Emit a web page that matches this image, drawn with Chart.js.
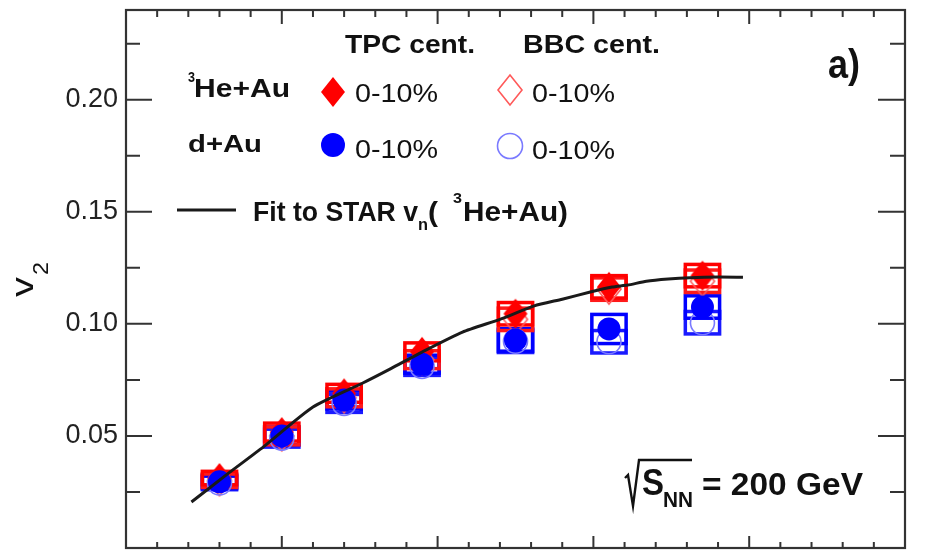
<!DOCTYPE html>
<html><head><meta charset="utf-8">
<script src="https://cdn.jsdelivr.net/npm/chart.js@4.4.1/dist/chart.umd.min.js"></script>
<style>html,body{margin:0;padding:0;background:#fff;}canvas{display:block;}</style>
</head><body>
<canvas id="c" width="927" height="551"></canvas>
<script>
const FAMILY = '"Liberation Sans", Arial, Helvetica, sans-serif';

// ---- data ----
const xBins   = [0.30, 0.50, 0.70, 0.95, 1.25, 1.55, 1.85];
const heTPC   = [0.0312, 0.0517, 0.0690, 0.0875, 0.1045, 0.1165, 0.1215];
const heBBC   = [0.0300, 0.0500, 0.0670, 0.0840, 0.1020, 0.1155, 0.1190];
const dauTPC  = [0.0295, 0.0500, 0.0660, 0.0820, 0.0928, 0.0977, 0.1075];
const dauBBC  = [0.0290, 0.0490, 0.0645, 0.0810, 0.0922, 0.0920, 0.1005];
const heTPCsys  = [0.003, 0.004, 0.004, 0.004, 0.005, 0.005, 0.005];
const heBBCsys  = [0.003, 0.004, 0.004, 0.004, 0.005, 0.005, 0.005];
const dauTPCsys = [0.003, 0.004, 0.004, 0.004, 0.005, 0.0065, 0.005];
const dauBBCsys = [0.003, 0.004, 0.004, 0.004, 0.005, 0.005, 0.005];
const sysHalfWidth = 0.055;
const fitX = [0.21, 0.33, 0.44, 0.60, 0.76, 0.85, 0.95, 1.08, 1.20, 1.31, 1.40, 1.49, 1.56, 1.61, 1.67, 1.74, 1.81, 1.90, 1.98];
const fitY = [0.0205, 0.0335, 0.0450, 0.0629, 0.0736, 0.0800, 0.0874, 0.0963, 0.1020, 0.1080, 0.1110, 0.1142, 0.1164, 0.1173, 0.1190, 0.1200, 0.1206, 0.1209, 0.1208];
const yTickValues = [0.05, 0.10, 0.15, 0.20];
const yTickLabels = ['0.05', '0.10', '0.15', '0.20'];
const yMinorTicks = [0.025, 0.075, 0.125, 0.175, 0.225];
const xMajorTicks = [0.5, 1.0, 1.5, 2.0];
const xMinorTicks = [0.1,0.2,0.3,0.4,0.6,0.7,0.8,0.9,1.1,1.2,1.3,1.4,1.6,1.7,1.8,1.9,2.1,2.2,2.3,2.4];

function pts(xs, ys){ return xs.map((x,i)=>({x:x, y:ys[i]})); }

function diamond(w, h, fill, stroke, lw){
  const c = document.createElement('canvas');
  c.width = w + 4; c.height = h + 4;
  const g = c.getContext('2d');
  g.beginPath();
  g.moveTo(c.width/2, 2); g.lineTo(c.width-2, c.height/2);
  g.lineTo(c.width/2, c.height-2); g.lineTo(2, c.height/2); g.closePath();
  if (fill){ g.fillStyle = fill; g.fill(); }
  if (stroke){ g.strokeStyle = stroke; g.lineWidth = lw; g.stroke(); }
  return c;
}
const dFill = diamond(24, 30, '#ff0000', null, 0);
const dOpen = diamond(24, 30, null, '#ff5a5a', 1.6);

function txt(ctx, s, left, base, size, bold, w){
  ctx.save();
  ctx.font = (bold ? 'bold ' : '') + size + 'px ' + FAMILY;
  ctx.textAlign = 'left'; ctx.textBaseline = 'alphabetic';
  const m = ctx.measureText(s).width;
  const sx = w ? w / m : 1;
  ctx.translate(left, base); ctx.scale(sx, 1);
  ctx.fillStyle = '#111';
  ctx.fillText(s, 0, 0);
  ctx.restore();
}

const boxPlugin = {
  id: 'sysboxes',
  beforeDatasetsDraw(chart){
    const ctx = chart.ctx, xs = chart.scales.x, ys = chart.scales.y;
    const sets = [[dauBBC, dauBBCsys, '#1a1aff'], [dauTPC, dauTPCsys, '#0000ff'],
                  [heBBC, heBBCsys, '#ff1a1a'], [heTPC, heTPCsys, '#ff0000']];
    ctx.save();
    ctx.lineWidth = 3.5;
    sets.forEach(([vals, sys, col]) => {
      ctx.strokeStyle = col;
      vals.forEach((v, i) => {
        const x0 = xs.getPixelForValue(xBins[i] - sysHalfWidth);
        const x1 = xs.getPixelForValue(xBins[i] + sysHalfWidth);
        const y0 = ys.getPixelForValue(v + sys[i]);
        const y1 = ys.getPixelForValue(v - sys[i]);
        ctx.strokeRect(x0, y0, x1 - x0, y1 - y0);
      });
    });
    ctx.restore();
  }
};

const framePlugin = {
  id: 'frame',
  afterDraw(chart){
    const ctx = chart.ctx, a = chart.chartArea, xs = chart.scales.x, ys = chart.scales.y;
    ctx.save();
    ctx.strokeStyle = '#333'; ctx.lineWidth = 2;
    ctx.beginPath();
    yTickValues.forEach(v => { const y = ys.getPixelForValue(v);
      ctx.moveTo(a.left, y); ctx.lineTo(a.left + 26, y);
      ctx.moveTo(a.right, y); ctx.lineTo(a.right - 27, y); });
    yMinorTicks.forEach(v => { const y = ys.getPixelForValue(v);
      ctx.moveTo(a.left, y); ctx.lineTo(a.left + 14, y);
      ctx.moveTo(a.right, y); ctx.lineTo(a.right - 15, y); });
    xMajorTicks.forEach(v => { const x = xs.getPixelForValue(v);
      ctx.moveTo(x, a.bottom); ctx.lineTo(x, a.bottom - 12);
      ctx.moveTo(x, a.top); ctx.lineTo(x, a.top + 14); });
    xMinorTicks.forEach(v => { const x = xs.getPixelForValue(v);
      ctx.moveTo(x, a.bottom); ctx.lineTo(x, a.bottom - 6);
      ctx.moveTo(x, a.top); ctx.lineTo(x, a.top + 7); });
    ctx.stroke();
    ctx.lineWidth = 2.2;
    ctx.strokeRect(a.left, a.top, a.right - a.left, a.bottom - a.top);

    // y-axis title v_2
    ctx.save();
    ctx.translate(33, 297); ctx.rotate(-Math.PI/2);
    txt(ctx, 'v', 0, 0, 32, false, 20);
    txt(ctx, '2', 22, 15, 22, false, 13);
    ctx.restore();

    // legend headers
    txt(ctx, 'TPC cent.', 345, 53, 25, true, 130);
    txt(ctx, 'BBC cent.', 523, 53, 25, true, 137);
    txt(ctx, '3', 188, 82, 15, true, 7);
    txt(ctx, 'He+Au', 194, 97, 26, true, 96);
    txt(ctx, 'd+Au', 188, 152, 24, true, 74);
    txt(ctx, '0-10%', 355, 102, 26, false, 83);
    txt(ctx, '0-10%', 355, 158, 26, false, 83);
    txt(ctx, '0-10%', 532, 102, 26, false, 83);
    txt(ctx, '0-10%', 532, 159, 26, false, 83);
    // legend markers
    ctx.drawImage(dFill, 333 - dFill.width/2, 92 - dFill.height/2);
    ctx.drawImage(dOpen, 510 - dOpen.width/2, 90 - dOpen.height/2);
    ctx.fillStyle = '#0000ff';
    ctx.beginPath(); ctx.arc(333, 145, 12, 0, Math.PI*2); ctx.fill();
    ctx.strokeStyle = '#7a7aff'; ctx.lineWidth = 1.6;
    ctx.beginPath(); ctx.arc(510, 146, 12.5, 0, Math.PI*2); ctx.stroke();
    // fit legend
    ctx.strokeStyle = '#1a1a1a'; ctx.lineWidth = 3;
    ctx.beginPath(); ctx.moveTo(177, 210); ctx.lineTo(236, 210); ctx.stroke();
    txt(ctx, 'Fit to STAR v', 253, 221, 27, true, 165);
    txt(ctx, 'n', 418, 230, 17, true, 10);
    txt(ctx, '(', 428, 221, 27, true, 10);
    txt(ctx, '3', 453, 203, 15, true, 9);
    txt(ctx, 'He+Au)', 463, 221, 27, true, 105);
    // panel label
    txt(ctx, 'a)', 828, 78, 40, true, 32);
    // sqrt(s_NN) = 200 GeV
    ctx.strokeStyle = '#111'; ctx.lineWidth = 2.4;
    ctx.beginPath();
    ctx.moveTo(625, 478); ctx.lineTo(628, 475); ctx.lineTo(633, 506);
    ctx.lineTo(639, 460); ctx.lineTo(692, 460);
    ctx.stroke();
    txt(ctx, 'S', 642, 495, 36, true, 22);
    txt(ctx, 'NN', 663, 507, 22, true, 30);
    txt(ctx, '= 200 GeV', 702, 495, 32, true, 161);
    ctx.restore();
  }
};

function noPad(s){ s.paddingTop = 0; s.paddingBottom = 0; s.paddingLeft = 0; s.paddingRight = 0; }

new Chart(document.getElementById('c'), {
  type: 'scatter',
  data: { datasets: [
    { label: 'Fit to STAR vn(3He+Au)', data: pts(fitX, fitY), showLine: true, tension: 0.2,
      borderColor: '#1a1a1a', borderWidth: 3, pointRadius: 0, order: 0 },
    { label: 'd+Au TPC 0-10%', data: pts(xBins, dauTPC), pointStyle: 'circle', pointRadius: 11.5,
      backgroundColor: '#0000ff', borderColor: '#0000ff', borderWidth: 0, order: 1 },
    { label: '3He+Au TPC 0-10%', data: pts(xBins, heTPC), pointStyle: dFill, order: 2 },
    { label: 'd+Au BBC 0-10%', data: pts(xBins, dauBBC), pointStyle: 'circle', pointRadius: 12,
      backgroundColor: 'rgba(0,0,0,0)', borderColor: '#7a7aff', borderWidth: 1.6, order: 3 },
    { label: '3He+Au BBC 0-10%', data: pts(xBins, heBBC), pointStyle: dOpen, order: 4 }
  ]},
  options: {
    responsive: false, animation: false, devicePixelRatio: 1, events: [],
    layout: { autoPadding: false, padding: { top: 10, right: 22, left: 0, bottom: 0 } },
    plugins: { legend: { display: false }, tooltip: { enabled: false } },
    scales: {
      x: { type: 'linear', min: 0, max: 2.5,
           ticks: { display: false }, grid: { display: false, drawTicks: false },
           border: { display: false }, afterFit: s => { s.height = 3; noPad(s); } },
      y: { type: 'linear', min: 0, max: 0.24,
           afterBuildTicks: s => { s.ticks = yTickValues.map(v => ({ value: v })); },
           ticks: { autoSkip: false, padding: 8, color: '#222',
                    font: { family: FAMILY, size: 27 },
                    callback: (v) => { const i = yTickValues.findIndex(t => Math.abs(t - v) < 1e-9); return i >= 0 ? yTickLabels[i] : ''; } },
           grid: { display: false, drawTicks: false, tickLength: 0 },
           border: { display: false }, afterFit: s => { s.width = 126; noPad(s); } }
    }
  },
  plugins: [boxPlugin, framePlugin]
});
</script>
</body></html>
